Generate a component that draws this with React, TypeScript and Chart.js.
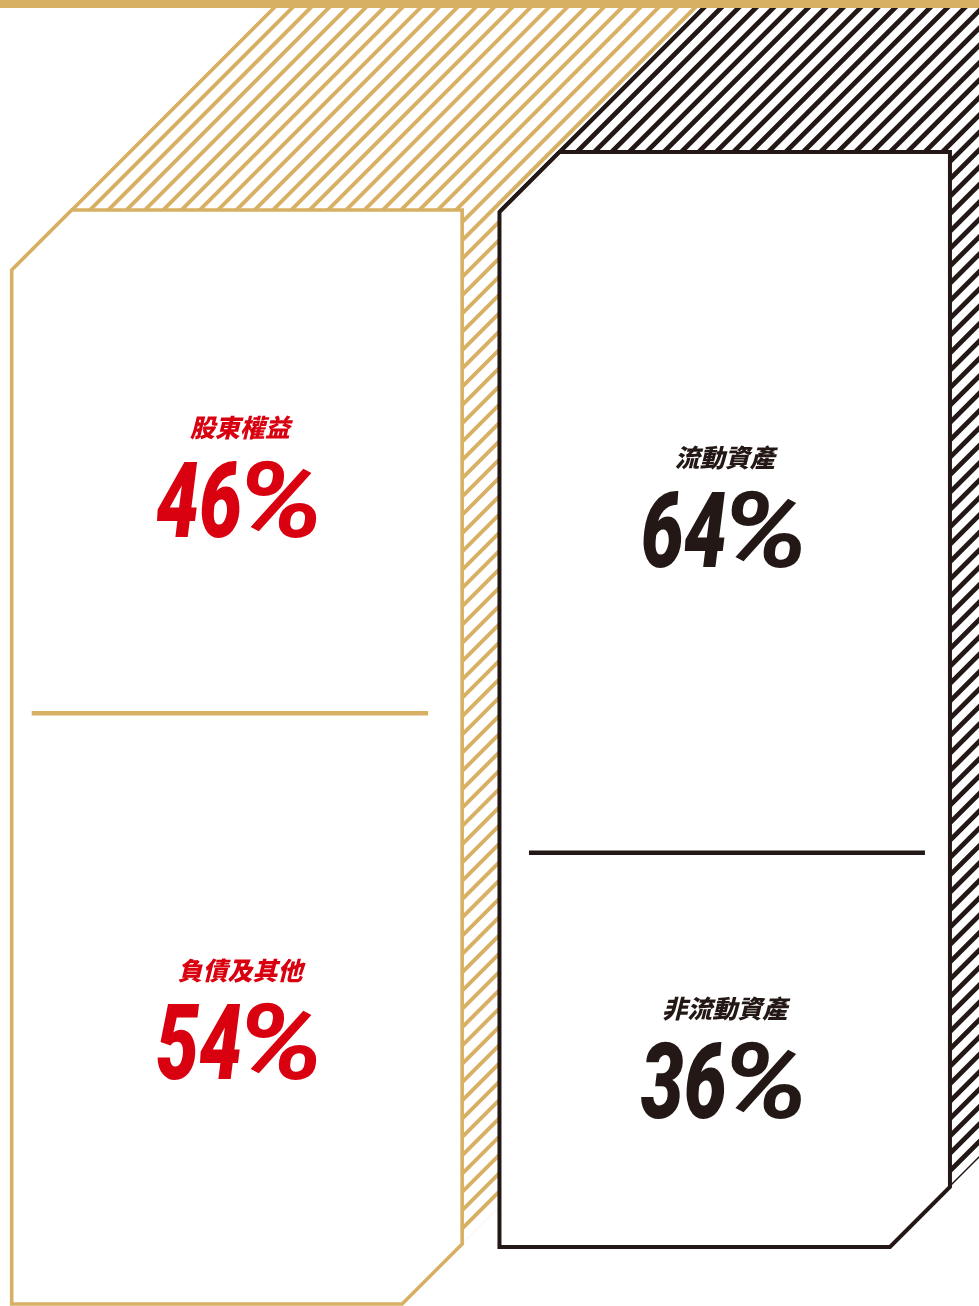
import React, { useEffect, useRef } from "react";
import { Chart, registerables } from "chart.js";

Chart.register(...registerables);

// ---- data ----
const columnKeys = [0, 1]; // 0: 資金來源 (left), 1: 資金運用 (right)
const leftLabels = ["股東權益", "負債及其他"];
const leftValues = [46, 54];
const rightLabels = ["流動資產", "非流動資產"];
const rightValues = [64, 36];

// ---- style ----
const GOLD = "#D8B064";
const BLACK = "#231815";
const RED = "#D9000F";
const W = 979;
const H = 1306;

type Box = { left: number; right: number; top: number; mid: number; bottom: number };

function boxFrom(chart: any, a: number, b: number): Box {
  const e0 = chart.getDatasetMeta(a).data[0].getProps(["x", "y", "base", "width"], true);
  const e1 = chart.getDatasetMeta(b).data[0].getProps(["x", "y", "base", "width"], true);
  return {
    left: e0.x - e0.width / 2,
    right: e0.x + e0.width / 2,
    top: Math.min(e0.base, e0.y),
    mid: Math.max(e0.base, e0.y),
    bottom: Math.max(e1.base, e1.y),
  };
}

function octagon(ctx: CanvasRenderingContext2D, b: Box, cut: number) {
  ctx.beginPath();
  ctx.moveTo(b.left, b.top + cut);
  ctx.lineTo(b.left + cut, b.top);
  ctx.lineTo(b.right, b.top);
  ctx.lineTo(b.right, b.bottom - cut);
  ctx.lineTo(b.right - cut, b.bottom);
  ctx.lineTo(b.left, b.bottom);
  ctx.closePath();
}

function bandPath(ctx: CanvasRenderingContext2D, c0: number, c1: number, yTop: number, yBot: number) {
  ctx.beginPath();
  ctx.moveTo(c0 - yTop, yTop);
  ctx.lineTo(c1 - yTop, yTop);
  ctx.lineTo(c1 - yBot, yBot);
  ctx.lineTo(c0 - yBot, yBot);
  ctx.closePath();
}

function stripes(ctx: CanvasRenderingContext2D, c0: number, c1: number, step: number, lw: number, color: string, yTop: number, yBot: number) {
  ctx.strokeStyle = color;
  ctx.lineWidth = lw;
  ctx.beginPath();
  for (let c = c0; c <= c1 + step; c += step) {
    ctx.moveTo(c - yTop + 50, yTop - 50);
    ctx.lineTo(c - yBot, yBot);
  }
  ctx.stroke();
}

function fitText(ctx: CanvasRenderingContext2D, text: string, left: number, baseline: number, targetW: number) {
  const m = ctx.measureText(text).width;
  ctx.save();
  ctx.translate(left, baseline);
  ctx.scale(targetW / m, 1);
  ctx.textAlign = "left";
  ctx.fillText(text, 0, 0);
  ctx.restore();
}

function drawPct(ctx: CanvasRenderingContext2D, value: number, cx: number, baseline: number, color: string) {
  const digitsW = 86;
  const gap = -6;
  const pctW = 88;
  const total = digitsW + gap + pctW;
  const x0 = cx - total / 2;
  ctx.save();
  ctx.fillStyle = color;
  ctx.textBaseline = "alphabetic";
  ctx.font = "italic 900 106px Roboto";
  fitText(ctx, String(value), x0, baseline, digitsW);
  ctx.font = "italic bold 106px Roboto";
  fitText(ctx, "%", x0 + digitsW + gap, baseline, pctW);
  ctx.restore();
}

function drawLabel(ctx: CanvasRenderingContext2D, text: string, cx: number, cy: number, color: string) {
  ctx.save();
  ctx.font = 'italic 900 25px "Noto Sans CJK TC"';
  ctx.fillStyle = color;
  ctx.textAlign = "center";
  ctx.textBaseline = "middle";
  ctx.fillText(text, cx, cy);
  ctx.restore();
}

const infographic = {
  id: "infographic",
  afterDatasetsDraw(chart: any) {
    const ctx: CanvasRenderingContext2D = chart.ctx;
    const L = boxFrom(chart, 0, 1);
    const R = boxFrom(chart, 2, 3);
    const cut = 60;
    const bandH = 8;
    const yBot = H + 200;

    ctx.save();
    // gold extrusion stripes
    const g0 = L.left + cut + L.top;
    const g1 = L.right + L.bottom - cut;
    ctx.save();
    ctx.beginPath();
    ctx.rect(L.left, bandH, W, L.bottom - bandH);
    ctx.clip();
    bandPath(ctx, g0 - 2.5, g1, bandH, yBot);
    ctx.clip();
    stripes(ctx, g0, g1, 18.3, 3.9, GOLD, bandH, yBot);
    ctx.restore();

    // black extrusion stripes
    const b0 = R.left + cut + R.top;
    const b1 = R.right + R.bottom - cut;
    ctx.save();
    ctx.beginPath();
    ctx.rect(R.left, bandH, W, R.bottom - bandH);
    ctx.clip();
    bandPath(ctx, b0 - 3, b1, bandH, yBot);
    ctx.clip();
    ctx.fillStyle = "#ffffff";
    ctx.fillRect(0, 0, W, H);
    stripes(ctx, b0, b1, 17.4, 4.8, BLACK, bandH, yBot);
    ctx.restore();

    // top band
    ctx.fillStyle = GOLD;
    ctx.fillRect(0, 0, W, bandH);

    // boxes
    ctx.lineJoin = "miter";
    octagon(ctx, L, cut);
    ctx.fillStyle = "#ffffff";
    ctx.fill();
    ctx.strokeStyle = GOLD;
    ctx.lineWidth = 3.6;
    ctx.stroke();

    octagon(ctx, R, cut);
    ctx.fillStyle = "#ffffff";
    ctx.fill();
    ctx.strokeStyle = BLACK;
    ctx.lineWidth = 4;
    ctx.stroke();

    // dividers
    ctx.lineWidth = 4.5;
    ctx.strokeStyle = GOLD;
    ctx.beginPath();
    ctx.moveTo(L.left + 20, L.mid);
    ctx.lineTo(L.right - 34, L.mid);
    ctx.stroke();
    ctx.strokeStyle = BLACK;
    ctx.beginPath();
    ctx.moveTo(R.left + 29.5, R.mid);
    ctx.lineTo(R.right - 25, R.mid);
    ctx.stroke();

    // texts
    const segs = [
      { box: L, c: (L.top + L.mid) / 2, label: leftLabels[0], v: leftValues[0], color: RED, ldy: -34, pdy: 75, dx: 3 },
      { box: L, c: (L.mid + L.bottom) / 2, label: leftLabels[1], v: leftValues[1], color: RED, ldy: -38, pdy: 70, dx: 3 },
      { box: R, c: (R.top + R.mid) / 2, label: rightLabels[0], v: rightValues[0], color: BLACK, ldy: -45, pdy: 65, dx: 0 },
      { box: R, c: (R.mid + R.bottom) / 2, label: rightLabels[1], v: rightValues[1], color: BLACK, ldy: -41.5, pdy: 68.5, dx: 0 },
    ];
    for (const s of segs) {
      const cx = (s.box.left + s.box.right) / 2 + s.dx;
      drawLabel(ctx, s.label, cx, s.c + s.ldy, s.color);
      drawPct(ctx, s.v, cx, s.c + s.pdy, s.color);
    }
    ctx.restore();
  },
};

export default function App() {
  const ref = useRef<HTMLCanvasElement | null>(null);
  useEffect(() => {
    document.body.style.margin = "0";
    const canvas = ref.current!;
    const transparent = "rgba(0,0,0,0)";
    const common = { backgroundColor: transparent, borderWidth: 0, grouped: false, stack: "all" };
    const chart = new Chart(canvas, {
      type: "bar",
      data: {
        datasets: [
          { label: leftLabels[0], data: [{ x: columnKeys[0], y: leftValues[0] }], yAxisID: "yL", ...common },
          { label: leftLabels[1], data: [{ x: columnKeys[0], y: leftValues[1] }], yAxisID: "yL", ...common },
          { label: rightLabels[0], data: [{ x: columnKeys[1], y: rightValues[0] }], yAxisID: "yR", ...common },
          { label: rightLabels[1], data: [{ x: columnKeys[1], y: rightValues[1] }], yAxisID: "yR", ...common },
        ] as any,
      },
      options: {
        responsive: false,
        animation: false,
        devicePixelRatio: 1,
        layout: { padding: 0 },
        categoryPercentage: 0.9235,
        barPercentage: 1,
        plugins: { legend: { display: false }, tooltip: { enabled: false } },
        scales: {
          x: {
            type: "linear",
            display: false,
            stacked: true,
            offset: false,
            min: -0.4857,
            max: 1.5213,
            afterBuildTicks: (scale: any) => {
              scale.ticks = columnKeys.map((v) => ({ value: v }));
            },
          },
          yL: { type: "linear", display: false, stacked: true, reverse: true, min: -19.196, max: 100.182 },
          yR: { type: "linear", display: false, stacked: true, reverse: true, min: -13.881, max: 105.388 },
        },
      } as any,
      plugins: [infographic],
    });
    return () => chart.destroy();
  }, []);
  return <canvas ref={ref} width={W} height={H} style={{ display: "block", width: W, height: H }} />;
}
